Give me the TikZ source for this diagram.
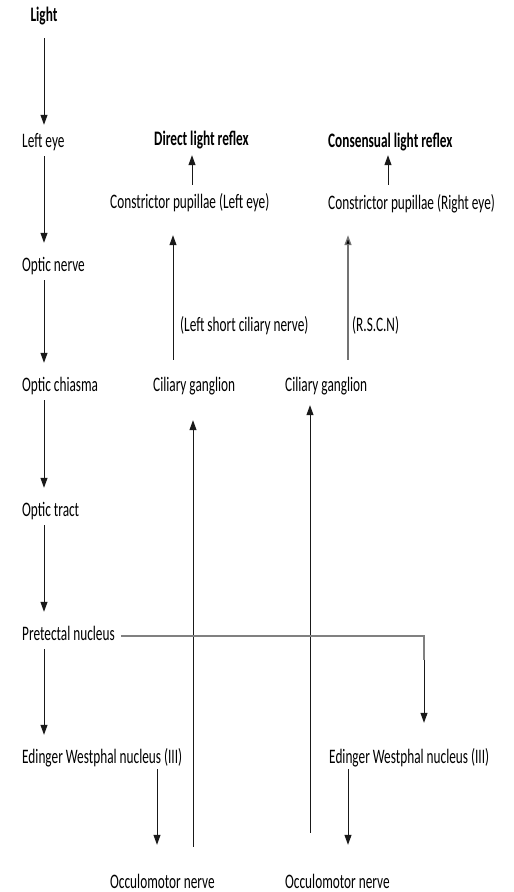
\documentclass[tikz,border=0pt]{standalone}
\usepackage{fontspec}
\setmainfont{Carlito}[FakeStretch=0.645]
\usetikzlibrary{arrows.meta}
\begin{document}
\begin{tikzpicture}[x=1pt,y=-1pt,
  lbl/.style={inner sep=0pt,text height=15pt,text depth=5pt,font=\fontsize{20.6}{24}\selectfont,anchor=base west},
  arr/.style={draw=black!90,line width=1pt,-{Triangle[width=7pt,length=10pt]}},
  garr/.style={draw=black!55,line width=1.4pt,-{Triangle[width=7pt,length=10pt,fill=black]}},
  pline/.style={draw=black!50,line width=2.2pt}]
\useasboundingbox[fill=white] (0,0) rectangle (514,892);
% left column
\node[lbl,anchor=base] (light) at (44,21) {\bfseries Light};
\node[lbl] (lefteye) at (22,147) {Left eye};
\node[lbl] (opticnerve) at (22,271) {Optic nerve};
\node[lbl] (chiasma) at (22,391) {Optic chiasma};
\node[lbl] (tract) at (22,516) {Optic tract};
\node[lbl] (pretectal) at (22,640) {Pretectal nucleus};
\node[lbl] (ewL) at (22,763) {Edinger Westphal nucleus (III)};
% middle
\node[lbl,anchor=base] (direct) at (201.5,145) {\bfseries Direct light reflex};
\node[lbl] (conL) at (110,208) {Constrictor pupillae (Left eye)};
\node[lbl] (lscn) at (180,331) {(Left short ciliary nerve)};
\node[lbl] (cgL) at (153,391) {Ciliary ganglion};
\node[lbl] (omL) at (110,888) {Occulomotor nerve};
% right
\node[lbl] (cons) at (328,147) {\bfseries Consensual light reflex};
\node[lbl] (conR) at (328,209) {Constrictor pupillae (Right eye)};
\node[lbl] (rscn) at (352,331) {(R.S.C.N)};
\node[lbl] (cgR) at (285,391) {Ciliary ganglion};
\node[lbl] (ewR) at (329,763) {Edinger Westphal nucleus (III)};
\node[lbl] (omR) at (285,888) {Occulomotor nerve};
% left column arrows (x = 44)
\draw[arr] ([yshift=-12pt]light.south -| 44,0) -- ([yshift=7pt]lefteye.north -| 44,0);
\draw[arr] ([yshift=-4pt]lefteye.south -| 44,0) -- ([yshift=13pt]opticnerve.north -| 44,0);
\draw[arr] ([yshift=-4pt]opticnerve.south -| 44,0) -- ([yshift=13pt]chiasma.north -| 44,0);
\draw[arr] ([yshift=-4pt]chiasma.south -| 44,0) -- ([yshift=13pt]tract.north -| 44,0);
\draw[arr] ([yshift=-4pt]tract.south -| 44,0) -- ([yshift=13pt]pretectal.north -| 44,0);
\draw[arr] ([yshift=-4pt]pretectal.south -| 44,0) -- ([yshift=13pt]ewL.north -| 44,0);
% middle arrows
\draw[arr] ([yshift=8pt]conL.north -| 192,0) -- ([yshift=-5pt]direct.south -| 192,0);
\draw[arr] ([yshift=16pt]cgL.north -| 173,0) -- ([yshift=-22pt]conL.south -| 173,0);
\draw[arr] ([yshift=26pt]omL.north -| 193,0) -- ([yshift=-24pt]cgL.south -| 193,0);
\draw[arr] ([yshift=-1pt]ewL.south -| 157,0) -- ([yshift=28pt]omL.north -| 157,0);
% right arrows
\draw[arr] ([yshift=9pt]conR.north -| 388,0) -- ([yshift=-3pt]cons.south -| 388,0);
\draw[garr] ([yshift=16pt]cgR.north -| 348,0) -- ([yshift=-21pt]conR.south -| 348,0);
\draw[arr] ([yshift=40pt]omR.north -| 310,0) -- ([yshift=-9pt]cgR.south -| 310,0);
\draw[arr] ([yshift=-1pt]ewR.south -| 348,0) -- ([yshift=28pt]omR.north -| 348,0);
% pretectal to right EW
\draw[pline] ([xshift=6pt,yshift=-11pt]pretectal.north east) -| ([yshift=88pt]ewR.north -| 424,0);
\draw[arr] ([yshift=88pt]ewR.north -| 424,0) -- ([yshift=25pt]ewR.north -| 424,0);
\end{tikzpicture}
\end{document}
